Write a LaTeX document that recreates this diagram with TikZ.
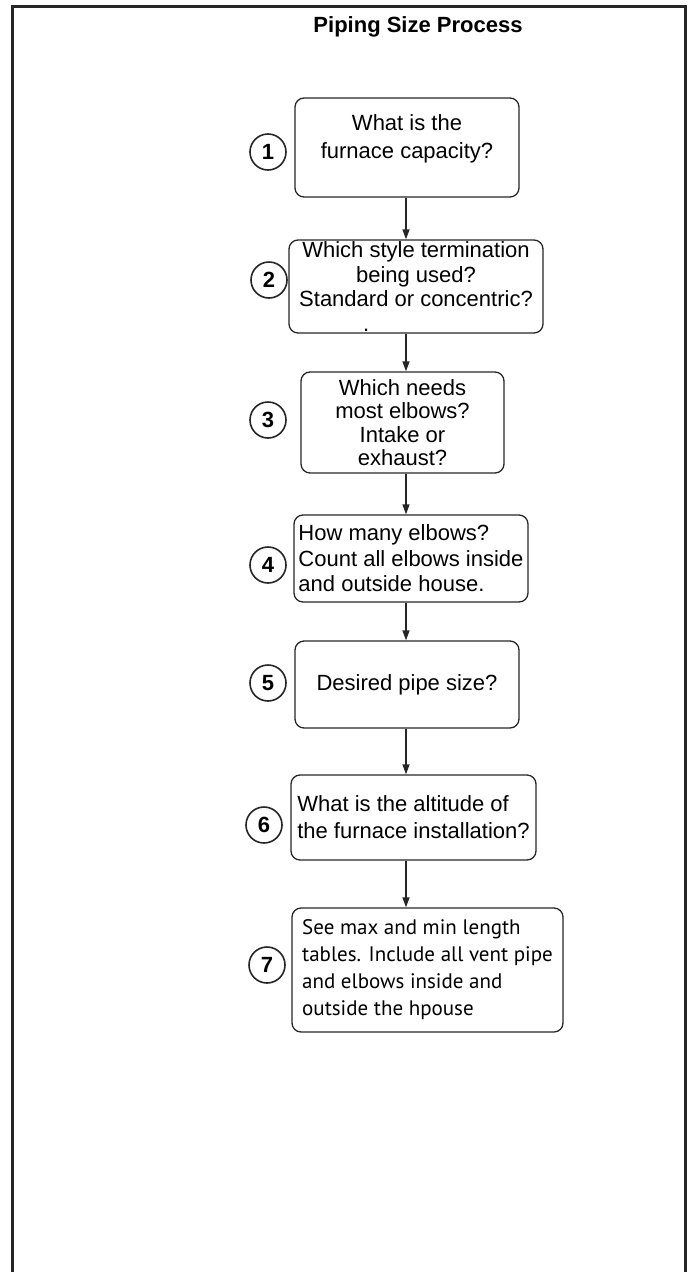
\documentclass[tikz,border=0pt]{standalone}
\usepackage{fontspec}
\setmainfont{Liberation Sans}
\newfontfamily\notefont{PT Sans}
\usetikzlibrary{arrows.meta}

\tikzset{
  etapa/.style={draw=black!85, line width=1.3pt, rounded corners=9pt, inner sep=0pt},
  numero/.style={circle, draw=black!85, line width=1.6pt, minimum size=36pt, inner sep=0pt, font=\bfseries\fontsize{22}{22}\selectfont},
  seta/.style={-{Triangle[length=10pt,width=7pt]}, line width=1.3pt, draw=black!85},
}

\begin{document}
\begin{tikzpicture}[x=1pt,y=-1pt]
  \useasboundingbox (0,0) rectangle (692,1272);
  % Moldura
  \draw[line width=3pt, draw=black!85, line join=miter] (12,1280) -- (12,6) -- (685,6) -- (685,1280);
  \node[font=\bfseries\fontsize{22}{22}\selectfont, anchor=base] (Titulo) at (418,32) {Piping Size Process};
  \coordinate (Eixo) at (406,0);

  % Etapas
  \node[etapa, minimum width=224pt, minimum height=99pt, align=center, text depth=21.6pt,
        font=\fontsize{22}{28}\selectfont] (Etapa1) at (407,147.5) {What is the\\furnace capacity?};
  \node[etapa, minimum width=254pt, minimum height=93pt, align=center,
        font=\fontsize{22}{24.7}\selectfont] (Etapa2) at (416,286.5)
        {Which style termination\\being used?\\Standard or concentric?\\\makebox[106pt][l]{.}};
  \node[etapa, minimum width=203pt, minimum height=101pt, align=center,
        font=\fontsize{22}{23.3}\selectfont] (Etapa3) at (402.5,422.5)
        {Which needs\\most elbows?\\Intake or\\exhaust?};
  \node[etapa, minimum width=234pt, minimum height=87pt, align=left,
        font=\fontsize{22}{25.5}\selectfont] (Etapa4) at (411,558.5)
        {How many elbows?\\Count all elbows inside\\and outside house.};
  \node[etapa, minimum width=224pt, minimum height=87pt, align=center,
        font=\fontsize{22}{25}\selectfont] (Etapa5) at (407,684.5) {Desired pipe size?};
  \node[etapa, minimum width=245pt, minimum height=85pt, align=left,
        font=\fontsize{22}{27}\selectfont] (Etapa6) at (413.5,817.5)
        {What is the altitude of\\the furnace installation?};
  \node[etapa, minimum width=271pt, minimum height=124pt, align=left,
        font=\notefont\fontsize{21}{27}\selectfont] (Etapa7) at (427.5,970)
        {See max and min length\\tables. Include all vent pipe\\and elbows inside and\\outside the hpouse};

  % Numeros
  \node[numero] (Num1) at (268,152) {1};
  \node[numero] (Num2) at (269,280) {2};
  \node[numero] (Num3) at (268,420) {3};
  \node[numero] (Num4) at (268,565) {4};
  \node[numero] (Num5) at (268,683) {5};
  \node[numero] (Num6) at (264,825) {6};
  \node[numero] (Num7) at (267,965) {7};

  \draw[seta] (Etapa1.south -| Eixo) to (Etapa2.north -| Eixo);
  \draw[seta] (Etapa2.south -| Eixo) to (Etapa3.north -| Eixo);
  \draw[seta] (Etapa3.south -| Eixo) to (Etapa4.north -| Eixo);
  \draw[seta] (Etapa4.south -| Eixo) to (Etapa5.north -| Eixo);
  \draw[seta] (Etapa5.south -| Eixo) to (Etapa6.north -| Eixo);
  \draw[seta] (Etapa6.south -| Eixo) to (Etapa7.north -| Eixo);
\end{tikzpicture}
\end{document}
